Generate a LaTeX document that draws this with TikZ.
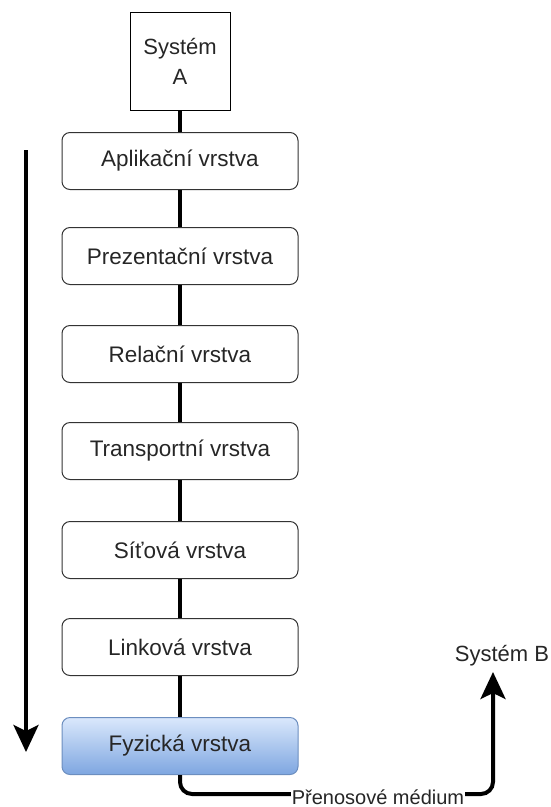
\documentclass[tikz,border=0pt]{standalone}
\usepackage{fontspec}
\setmainfont{Liberation Sans}
\usetikzlibrary{arrows.meta,shadings}
\begin{document}
\begin{tikzpicture}[x=1pt,y=-1pt,
  layer/.style={draw=black!80,line width=1pt,rounded corners=8pt,minimum width=236pt,minimum height=57pt,font=\fontsize{22.5}{26}\selectfont,text=black!85,inner sep=0pt},
  conn/.style={line width=4pt},
  bigarrow/.style={line width=4pt,-{Stealth[length=27pt,width=25pt,inset=6pt]}}]
\useasboundingbox (0,0) rectangle (550,807);
\node[draw=black,line width=1pt,minimum width=100pt,minimum height=98pt,align=center,font=\fontsize{22}{30}\selectfont,text=black!85,inner sep=0pt] (sa) at (180,61) {Systém\\A};
\node[layer] (l7) at (180,161) {Aplikační vrstva};
\node[layer] (l6) at (180,256) {Prezentační vrstva};
\node[layer] (l5) at (180,354) {Relační vrstva};
\node[layer] (l4) at (180,451) {Transportní vrstva};
\node[layer] (l3) at (180,550) {Síťová vrstva};
\node[layer] (l2) at (180,647) {Linková vrstva};
\node[layer,draw={rgb,255:red,108;green,142;blue,191},top color={rgb,255:red,218;green,232;blue,252},bottom color={rgb,255:red,126;green,166;blue,224}] (l1) at (180,746) {Fyzická vrstva};
\draw[conn] (sa.south) -- (l7.north);
\draw[conn] (l7.south) -- (l6.north);
\draw[conn] (l6.south) -- (l5.north);
\draw[conn] (l5.south) -- (l4.north);
\draw[conn] (l4.south) -- (l3.north);
\draw[conn] (l3.south) -- (l2.north);
\draw[conn] (l2.south) -- (l1.north);
\coordinate (at) at (26,150);
\coordinate (ab) at (26,752);
\draw[bigarrow] (at) -- (ab);
\node[font=\fontsize{22}{26}\selectfont,text=black!85,inner sep=0pt] (sb) at (502,656) {Systém B};
\coordinate (sbin) at (493,672);
\draw[bigarrow,rounded corners=12pt] (l1.south) |- (493,794) -- (sbin);
\node[fill=white,inner sep=1pt,font=\fontsize{20}{22}\selectfont,text=black!85] (pm) at (378,797) {Přenosové médium};
\end{tikzpicture}
\end{document}
